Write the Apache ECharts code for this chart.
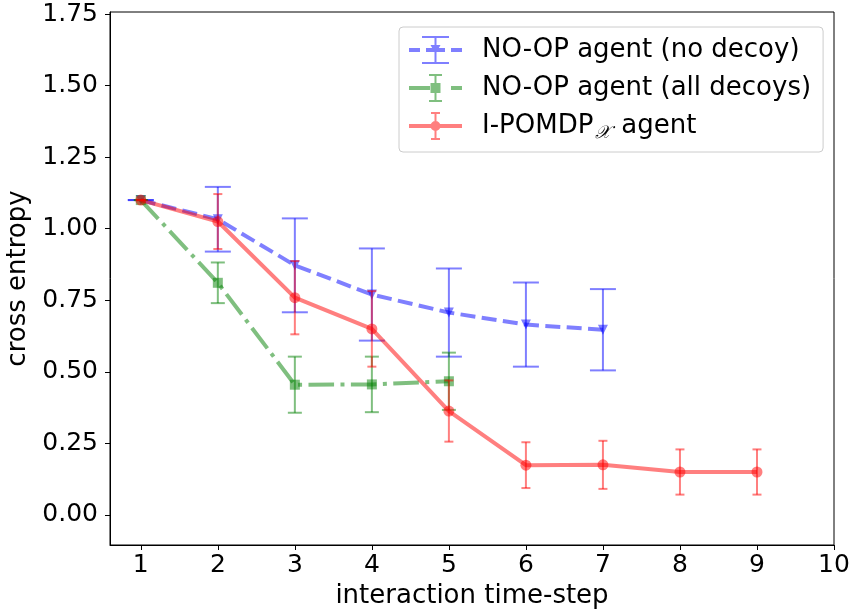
<!DOCTYPE html>
<html>
<head>
<meta charset="utf-8">
<script src="https://cdn.jsdelivr.net/npm/echarts@6/dist/echarts.min.js"></script>
<style>
  html, body { margin: 0; padding: 0; background: #fff; }
  #chart { width: 850px; height: 609px; }
</style>
</head>
<body>
<div id="chart"></div>
<script>
const xTicks = [1, 2, 3, 4, 5, 6, 7, 8, 9, 10]
const yTicks = [0, 0.25, 0.5, 0.75, 1.0, 1.25, 1.5, 1.75]

const noDecoySteps = [1, 2, 3, 4, 5, 6, 7]
const noDecoyMean = [1.10, 1.033, 0.872, 0.770, 0.707, 0.665, 0.647]
const noDecoyErr = [0.0, 0.113, 0.164, 0.161, 0.154, 0.147, 0.142]

const allDecoySteps = [1, 2, 3, 4, 5]
const allDecoyMean = [1.10, 0.811, 0.455, 0.456, 0.467]
const allDecoyErr = [0.0, 0.071, 0.098, 0.097, 0.100]

const ipomdpSteps = [1, 2, 3, 4, 5, 6, 7, 8, 9]
const ipomdpMean = [1.10, 1.025, 0.759, 0.650, 0.363, 0.174, 0.175, 0.150, 0.150]
const ipomdpErr = [0.0, 0.096, 0.128, 0.132, 0.107, 0.080, 0.084, 0.079, 0.079]

const BLUE = 'rgba(0, 0, 255, 0.5)'
const GREEN = 'rgba(0, 128, 0, 0.5)'
const RED = 'rgba(255, 0, 0, 0.5)'
const FONT = 'DejaVu Sans'

const pts = (xs, ys) => xs.map((x, i) => [x, ys[i]])
const bars = (xs, ys, es) => xs.map((x, i) => [x, ys[i] - es[i], ys[i] + es[i]])

// vertical bar with two caps, drawn through the axes
function errorBars(capHalf, color) {
  return function (params, api) {
    const x = api.value(0)
    const lo = api.coord([x, api.value(1)])
    const hi = api.coord([x, api.value(2)])
    const style = { stroke: color, lineWidth: 2 }
    return {
      type: 'group',
      children: [
        { type: 'line', shape: { x1: lo[0], y1: lo[1], x2: hi[0], y2: hi[1] }, style },
        { type: 'line', shape: { x1: lo[0] - capHalf, y1: lo[1], x2: lo[0] + capHalf, y2: lo[1] }, style },
        { type: 'line', shape: { x1: hi[0] - capHalf, y1: hi[1], x2: hi[0] + capHalf, y2: hi[1] }, style }
      ]
    }
  }
}

const iconNoDecoy = 'path://M0 12h11v4h-11z M17 12h19v4h-19z M42 12h11v4h-11z M25.5 0h2v28h-2z M13 0h27v2h-27z M13 26h27v2h-27z M21.5 9L31.5 9L26.5 18Z'
const iconAllDecoy = 'path://M0 12h21v4h-21z M42 12h11v4h-11z M25.5 0h2v28h-2z M20 0h13v2h-13z M20 26h13v2h-13z M21.5 9h10v10h-10z'
const iconIpomdp = 'path://M0 12h53v4h-53z M25.5 0h2v28h-2z M22 0h9v2h-9z M22 26h9v2h-9z M31.5 14A5 5 0 1 1 21.5 14A5 5 0 1 1 31.5 14Z'

const chart = echarts.init(document.getElementById('chart'), null, { renderer: 'canvas' })

chart.setOption({
  animation: false,
  backgroundColor: '#fff',
  textStyle: { fontFamily: FONT },
  grid: {
    left: 110, right: 16, top: 12, bottom: 64,
    outerBoundsMode: 'none', containLabel: false,
    show: true, borderColor: '#000', borderWidth: 1, backgroundColor: 'transparent'
  },
  legend: {
    orient: 'vertical',
    left: 399, top: 27,
    itemWidth: 53, itemHeight: 28, itemGap: 10,
    padding: [9, 12, 10, 10],
    borderColor: '#cccccc', borderWidth: 1, borderRadius: 4,
    backgroundColor: 'rgba(255,255,255,0.8)',
    textStyle: {
      fontFamily: FONT, fontSize: 26, color: '#000', padding: [0, 0, 0, 15],
      rich: {
        sub: { fontFamily: 'DejaVu Serif', fontStyle: 'italic', fontSize: 18, color: '#000',
          width: 26, align: 'left', padding: [14, 0, 0, 2] }
      }
    },
    formatter: name => name === 'I-POMDP agent' ? 'I-POMDP{sub|𝒳}agent' : name,
    data: [
      { name: 'NO-OP agent (no decoy)', icon: iconNoDecoy, itemStyle: { color: BLUE } },
      { name: 'NO-OP agent (all decoys)', icon: iconAllDecoy, itemStyle: { color: GREEN } },
      { name: 'I-POMDP agent', icon: iconIpomdp, itemStyle: { color: RED } }
    ]
  },
  xAxis: {
    type: 'value', min: 0.6, max: 10,
    name: 'interaction time-step', nameLocation: 'middle', nameGap: 36,
    nameTextStyle: { fontFamily: FONT, fontSize: 26, color: '#000' },
    axisLine: { show: true, onZero: false, lineStyle: { color: '#000', width: 1 } },
    axisTick: { show: true, inside: false, length: 5, customValues: xTicks, lineStyle: { color: '#000' } },
    axisLabel: { customValues: xTicks, fontFamily: FONT, fontSize: 25, color: '#000', margin: 8 },
    splitLine: { show: false }
  },
  yAxis: {
    type: 'value', min: -0.105, max: 1.757,
    name: 'cross entropy', nameLocation: 'middle', nameGap: 73,
    nameTextStyle: { fontFamily: FONT, fontSize: 26, color: '#000' },
    axisLine: { show: true, onZero: false, lineStyle: { color: '#000', width: 1 } },
    axisTick: { show: true, inside: false, length: 5, customValues: yTicks, lineStyle: { color: '#000' } },
    axisLabel: { customValues: yTicks, fontFamily: FONT, fontSize: 25, color: '#000', margin: 12,
      formatter: v => v.toFixed(2) },
    splitLine: { show: false }
  },
  series: [
    {
      name: 'NO-OP agent (no decoy)', type: 'line', z: 2,
      data: pts(noDecoySteps, noDecoyMean),
      symbol: 'triangle', symbolRotate: 180, symbolSize: 10,
      itemStyle: { color: BLUE, borderWidth: 0 },
      lineStyle: { color: BLUE, width: 4, type: [15, 6.4], cap: 'butt' }
    },
    {
      name: 'err-no-decoy', type: 'custom', z: 2,
      renderItem: errorBars(13, BLUE),
      encode: { x: 0, y: [1, 2] },
      data: bars(noDecoySteps, noDecoyMean, noDecoyErr)
    },
    {
      name: 'NO-OP agent (all decoys)', type: 'line', z: 3,
      data: pts(allDecoySteps, allDecoyMean),
      symbol: 'rect', symbolSize: 10,
      itemStyle: { color: GREEN, borderWidth: 0 },
      lineStyle: { color: GREEN, width: 4, type: [25.6, 6.4, 4, 6.4], cap: 'butt' }
    },
    {
      name: 'err-all-decoys', type: 'custom', z: 3,
      renderItem: errorBars(7, GREEN),
      encode: { x: 0, y: [1, 2] },
      data: bars(allDecoySteps, allDecoyMean, allDecoyErr)
    },
    {
      name: 'I-POMDP agent', type: 'line', z: 4,
      data: pts(ipomdpSteps, ipomdpMean),
      symbol: 'circle', symbolSize: 11,
      itemStyle: { color: RED, borderWidth: 0 },
      lineStyle: { color: RED, width: 4 }
    },
    {
      name: 'err-ipomdp', type: 'custom', z: 4,
      renderItem: errorBars(4.5, RED),
      encode: { x: 0, y: [1, 2] },
      data: bars(ipomdpSteps, ipomdpMean, ipomdpErr)
    }
  ]
})
</script>
</body>
</html>
